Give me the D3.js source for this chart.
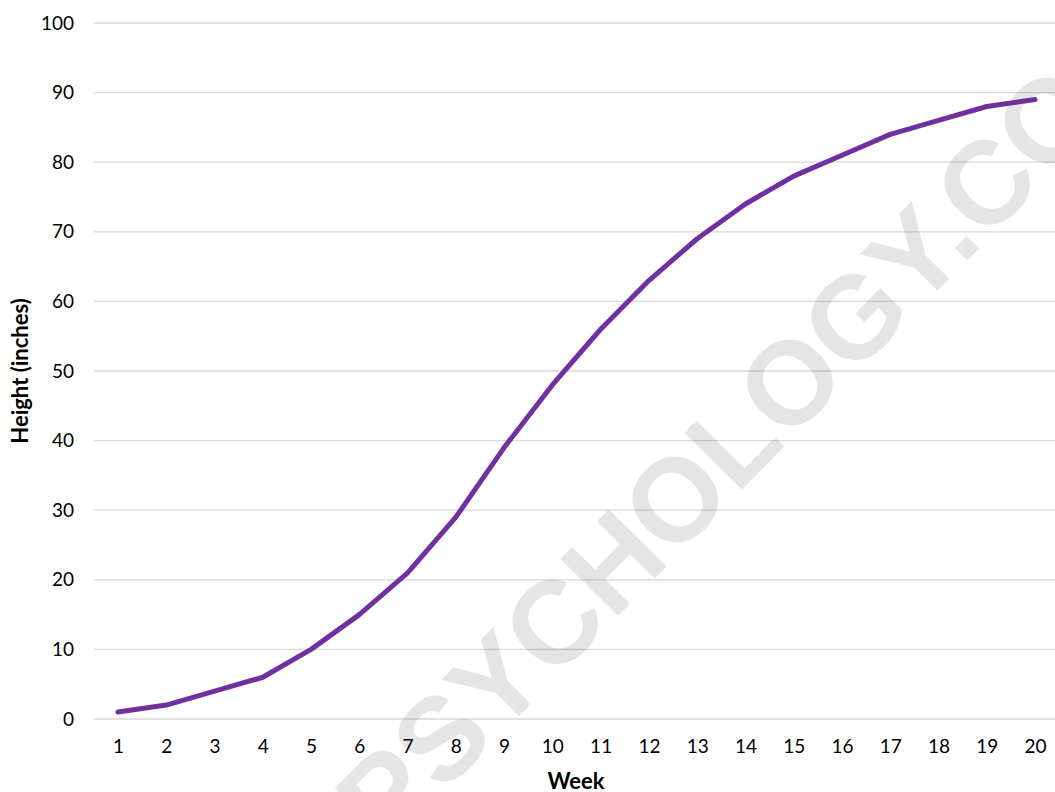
<!DOCTYPE html>
<html>
<head>
<meta charset="utf-8">
<script src="https://cdn.jsdelivr.net/npm/d3@7"></script>
<style>
  html, body { margin: 0; padding: 0; background: #fff; }
  svg { display: block; }
</style>
</head>
<body>
<svg id="chart" width="1055" height="792"></svg>
<script>
const weeks = [1,2,3,4,5,6,7,8,9,10,11,12,13,14,15,16,17,18,19,20];
const heights = [1,2,4,6,10,15,21,29,39,48,56,63,69,74,78,81,84,86,88,89];
const yTicks = [0,10,20,30,40,50,60,70,80,90,100];
const xLabel = "Week";
const yLabel = "Height (inches)";
const watermark = "PSYCHOLOGY.COM";

const svg = d3.select("#chart");
const font = "Lato, 'Open Sans', sans-serif";

const x = d3.scalePoint().domain(weeks).range([118, 1035]);
const y = d3.scaleLinear().domain([0, 100]).range([719, 23]);
const gridLeft = 94, gridRight = 1059;

// gridlines
svg.append("g")
  .selectAll("line")
  .data(yTicks)
  .join("line")
  .attr("x1", gridLeft).attr("x2", gridRight)
  .attr("y1", d => y(d)).attr("y2", d => y(d))
  .attr("stroke", "#d9d9d9").attr("stroke-width", 1.3);

// y axis labels
const yAxis = d3.axisLeft(y).tickValues(yTicks).tickSize(0).tickPadding(0);
const yg = svg.append("g").attr("transform", "translate(74,0)").call(yAxis);
yg.select(".domain").remove();
yg.selectAll("text").attr("font-family", font).attr("font-size", 19).attr("fill", "#000");

// x axis labels
const xAxis = d3.axisBottom(x).tickSize(0).tickPadding(0);
const xg = svg.append("g").attr("transform", "translate(0,739)").call(xAxis);
xg.select(".domain").remove();
xg.selectAll("text").attr("font-family", font).attr("font-size", 19).attr("fill", "#000");

// axis titles
svg.append("text")
  .attr("x", 576).attr("y", 789)
  .attr("text-anchor", "middle")
  .attr("font-family", font).attr("font-size", 22).attr("font-weight", "bold")
  .text(xLabel);
svg.append("text")
  .attr("transform", "translate(28,371) rotate(-90)")
  .attr("text-anchor", "middle")
  .attr("font-family", font).attr("font-size", 22).attr("font-weight", "bold")
  .text(yLabel);

// watermark
svg.append("text")
  .attr("transform", "translate(440,737) rotate(-45.5)")
  .attr("x", -118).attr("y", 42)
  .attr("font-family", "'Liberation Sans', Arial, sans-serif")
  .attr("font-weight", "bold").attr("font-size", 118)
  .attr("fill", "#000").attr("fill-opacity", 0.1)
  .text(watermark);

// line
const line = d3.line().x((d, i) => x(weeks[i])).y(d => y(d));
svg.append("path")
  .datum(heights)
  .attr("d", line)
  .attr("fill", "none")
  .attr("stroke", "#7030A0")
  .attr("stroke-width", 5)
  .attr("stroke-linecap", "round")
  .attr("stroke-linejoin", "round");
</script>
</body>
</html>
